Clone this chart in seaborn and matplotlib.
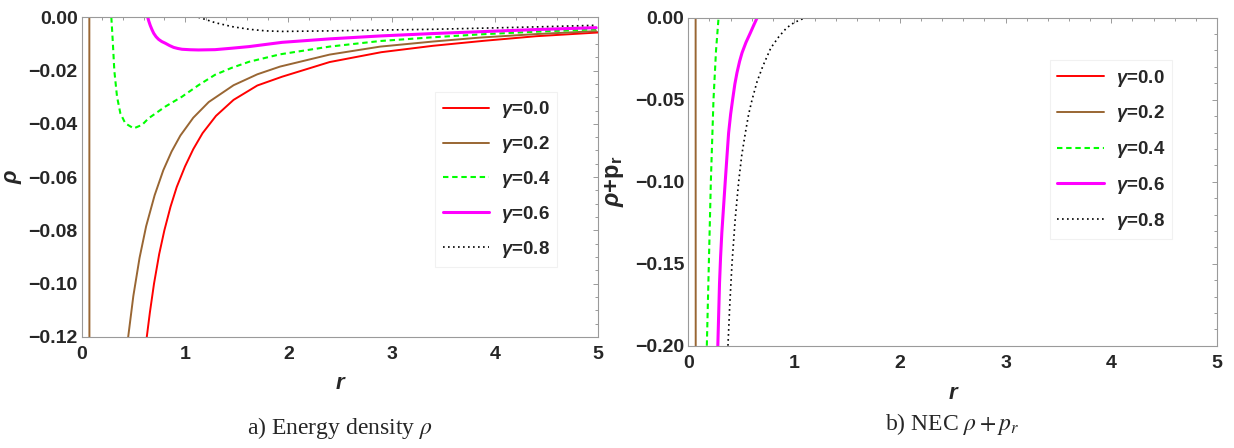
import matplotlib
matplotlib.use("Agg")
import matplotlib.pyplot as plt
import seaborn as sns
from matplotlib.ticker import MultipleLocator, FuncFormatter

# ---------------- data ----------------
legend_labels = [r"$\gamma$=0.0", r"$\gamma$=0.2", r"$\gamma$=0.4", r"$\gamma$=0.6", r"$\gamma$=0.8"]
line_colors = ["#FF0000", "#996633", "#00FF00", "#FF00FF", "#000000"]

# panel a) energy density rho
r_a_00 = [0.63, 0.66, 0.70, 0.75, 0.80, 0.86, 0.92, 1.00, 1.08, 1.17, 1.30, 1.47, 1.70, 1.94, 2.40, 2.90, 3.40, 3.90, 4.40, 5.00]
rho_00 = [-0.120, -0.1108, -0.100, -0.0889, -0.080, -0.0711, -0.0637, -0.056, -0.0495, -0.0435, -0.0370, -0.031, -0.0256, -0.0223, -0.0168, -0.0131, -0.0107, -0.0088, -0.0071, -0.0057]

r_a_02 = [0.05, 0.074, 0.076, 0.30, 0.45, 0.50, 0.56, 0.624, 0.706, 0.79, 0.87, 0.955, 1.08, 1.23, 1.47, 1.70, 1.92, 2.40, 2.89, 3.40, 3.86, 4.40, 4.98]
rho_02 = [0.05, 0.01, -0.30, -0.25, -0.120, -0.1046, -0.0903, -0.0784, -0.0668, -0.0574, -0.0504, -0.0444, -0.0377, -0.0318, -0.0255, -0.0214, -0.0185, -0.0140, -0.0110, -0.0091, -0.0076, -0.0063, -0.0052]

r_a_04 = [0.287, 0.30, 0.316, 0.342, 0.374, 0.422, 0.503, 0.584, 0.648, 0.81, 0.971, 1.13, 1.29, 1.45, 1.62, 1.92, 2.40, 2.89, 3.40, 3.86, 4.40, 4.98]
rho_04 = [0.0, -0.0085, -0.0201, -0.0298, -0.0360, -0.0398, -0.0417, -0.0404, -0.0379, -0.0335, -0.0298, -0.0255, -0.0216, -0.0190, -0.0167, -0.0139, -0.0110, -0.0089, -0.0075, -0.0064, -0.0054, -0.0045]

r_a_06 = [0.639, 0.65, 0.664, 0.68, 0.697, 0.72, 0.745, 0.775, 0.81, 0.85, 0.89, 0.93, 0.971, 1.05, 1.13, 1.29, 1.455, 1.62, 1.94, 2.40, 2.89, 3.40, 3.86, 4.40, 4.98]
rho_06 = [0.0, -0.0015, -0.0031, -0.0046, -0.0060, -0.0073, -0.0083, -0.0091, -0.00975, -0.0106, -0.0113, -0.0117, -0.0120, -0.01218, -0.01226, -0.01215, -0.0116, -0.0110, -0.0094, -0.0081, -0.0070, -0.0061, -0.0054, -0.0046, -0.0039]

r_a_08 = [1.13, 1.213, 1.29, 1.455, 1.62, 1.78, 1.94, 2.40, 2.89, 3.40, 3.86, 4.40, 4.98]
rho_08 = [0.0, -0.0010, -0.0020, -0.0035, -0.0045, -0.0051, -0.0053, -0.0051, -0.0048, -0.0045, -0.0041, -0.0036, -0.0030]

# panel b) NEC rho + p_r
r_b_00 = [0.0, 5.0]
nec_00 = [0.02, 0.02]

r_b_02 = [0.05, 0.069, 0.071, 0.50]
nec_02 = [0.05, 0.01, -0.50, -0.40]

r_b_04 = [0.175, 0.194, 0.213, 0.238, 0.262, 0.286]
nec_04 = [-0.200, -0.150, -0.100, -0.050, -0.020, 0.0]

r_b_06 = [0.279, 0.287, 0.295, 0.305, 0.317, 0.332, 0.349, 0.365, 0.381, 0.40, 0.419, 0.44, 0.46, 0.485, 0.508, 0.545, 0.587, 0.62, 0.651]
nec_06 = [-0.200, -0.181, -0.162, -0.146, -0.131, -0.1165, -0.100, -0.085, -0.0703, -0.0589, -0.0499, -0.0405, -0.0336, -0.0266, -0.0214, -0.0151, -0.0092, -0.0044, 0.0]

r_b_08 = [0.375, 0.392, 0.413, 0.443, 0.476, 0.505, 0.54, 0.57, 0.603, 0.65, 0.705, 0.78, 0.857, 0.93, 1.00, 1.07, 1.13]
nec_08 = [-0.200, -0.175, -0.150, -0.123, -0.100, -0.084, -0.070, -0.059, -0.050, -0.039, -0.0295, -0.0185, -0.0115, -0.0062, -0.0030, -0.0010, 0.0]

# ---------------- styling ----------------
sns.set_style("white")
plt.rcParams["font.family"] = ["Liberation Sans", "DejaVu Sans"]
plt.rcParams["font.weight"] = "normal"
plt.rcParams["mathtext.fontset"] = "stix"
plt.rcParams["axes.unicode_minus"] = True

line_widths = [1.4, 1.4, 1.5, 2.2, 1.2]
line_styles = ["-", "-", (0, (2.6, 1.8)), "-", (0, (1.0, 2.0))]

fig = plt.figure(figsize=(12.34, 4.48), dpi=100)
ax_a = fig.add_axes([0.0662, 0.2478, 0.4186, 0.7136])
ax_b = fig.add_axes([0.5578, 0.2283, 0.4284, 0.7322])

series_a = [(r_a_00, rho_00), (r_a_02, rho_02), (r_a_04, rho_04), (r_a_06, rho_06), (r_a_08, rho_08)]
series_b = [(r_b_00, nec_00), (r_b_02, nec_02), (r_b_04, nec_04), (r_b_06, nec_06), (r_b_08, nec_08)]

def fmt(dec):
    return FuncFormatter(lambda v, p: (f"{v:.{dec}f}").replace("-", "\u2212") if abs(v) > 1e-12 else f"{0:.{dec}f}")

for ax, series in [(ax_a, series_a), (ax_b, series_b)]:
    for (xs, ys), lab, c, lw, ls in zip(series, legend_labels, line_colors, line_widths, line_styles):
        sns.lineplot(x=xs, y=ys, ax=ax, color=c, linewidth=lw, linestyle=ls,
                     estimator=None, sort=False, label=lab)
    ax.set_xlim(0, 5)
    ax.xaxis.set_major_locator(MultipleLocator(1))
    ax.xaxis.set_minor_locator(MultipleLocator(0.2))
    ax.xaxis.set_major_formatter(fmt(0))
    for sp in ax.spines.values():
        sp.set_color("#9a9a9a")
        sp.set_linewidth(0.8)
    ax.tick_params(axis="both", which="both", direction="in", top=True, right=True,
                   color="#9a9a9a", width=0.7, labelsize=14)
    ax.tick_params(axis="both", which="major", length=3.8)
    ax.tick_params(axis="both", which="minor", length=1.9)
    ax.tick_params(axis="y", which="both", pad=3)
    ax.set_xlabel("r", fontsize=16, fontstyle="italic", fontweight="bold")

ax_a.tick_params(axis="x", which="both", pad=6.2)
ax_b.tick_params(axis="x", which="both", pad=6.8)

ax_a.set_ylim(-0.12, 0.0)
ax_a.yaxis.set_major_locator(MultipleLocator(0.02))
ax_a.yaxis.set_minor_locator(MultipleLocator(0.005))
ax_a.yaxis.set_major_formatter(fmt(2))
ax_a.set_ylabel("ρ", fontsize=16, fontstyle="italic", fontweight="bold")
ax_a.xaxis.set_label_coords(0.5, -0.113)
ax_a.yaxis.set_label_coords(-0.114, 0.5)

ax_b.set_ylim(-0.20, 0.0)
ax_b.yaxis.set_major_locator(MultipleLocator(0.05))
ax_b.yaxis.set_minor_locator(MultipleLocator(0.01))
ax_b.yaxis.set_major_formatter(fmt(2))
ylab_b = ax_b.set_ylabel(r"$\rho$+p$_\mathrm{r}$", fontsize=17, fontweight="bold")
ylab_b.set_math_fontfamily("custom")
ax_b.xaxis.set_label_coords(0.5, -0.115)
ax_b.yaxis.set_label_coords(-0.117, 0.5)

plt.rcParams["mathtext.it"] = "Liberation Sans:italic:bold"
plt.rcParams["mathtext.rm"] = "Liberation Sans:bold"
plt.rcParams["mathtext.bf"] = "Liberation Sans:bold"
plt.rcParams["mathtext.sf"] = "Liberation Sans:bold"

for ax in (ax_a, ax_b):
    for t in ax.get_xticklabels() + ax.get_yticklabels():
        t.set_fontweight("bold")

for ax, anchor, lsp in [(ax_a, (0.684, 0.767), 0.74), (ax_b, (0.684, 0.871), 0.79)]:
    handles = ax.get_lines()
    leg = ax.legend(handles, legend_labels, loc="upper left", bbox_to_anchor=anchor,
                    borderaxespad=0, frameon=True, fancybox=False, edgecolor="#eeeeee",
                    handlelength=2.5, handletextpad=0.6, labelspacing=lsp, borderpad=0.4,
                    prop={"weight": "bold", "size": 13.5})
    leg.get_frame().set_linewidth(0.8)
    for t in leg.get_texts():
        t.set_math_fontfamily("custom")

cap_a = fig.text(0.2755, 1 - 428 / 448, r"a) Energy density $\rho$", fontsize=17,
                 ha="center", va="center")
cap_a.set_family("Liberation Serif")
cap_b = fig.text(0.7720, 1 - 424 / 448, r"b) NEC $\rho + p_r$", fontsize=17,
                 ha="center", va="center")
cap_b.set_family("Liberation Serif")

fig.savefig("out.png", dpi=100)
